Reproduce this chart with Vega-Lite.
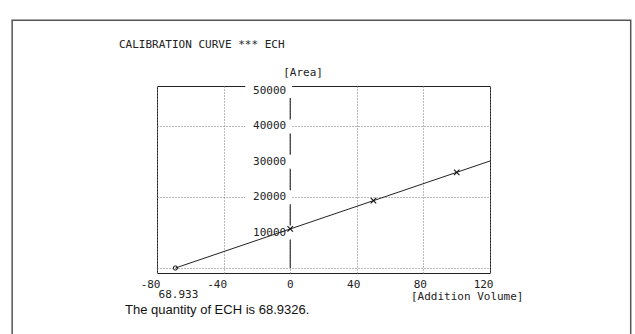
{
  "$schema": "https://vega.github.io/schema/vega-lite/v6.json",
  "width": 333,
  "height": 187,
  "autosize": {"type": "none"},
  "padding": {"left": 157, "top": 86, "right": 145, "bottom": 61},
  "background": "white",
  "config": {"view": {"stroke": "#222", "strokeWidth": 1}},
  "layer": [
    {
      "data": {"values": [{"x": -68.93, "y": 0}, {"x": 120, "y": 30229}]},
      "mark": {"type": "line", "opacity": 0},
      "encoding": {
        "x": {"field": "x", "type": "quantitative", "scale": {"domain": [-80, 120], "nice": false, "zero": false},
          "axis": {"values": [-80, -60, -40, -20, 0, 20, 40, 60, 80, 100, 120], "labelExpr": "datum.value % 40 == 0 ? '' + datum.value : ''", "grid": true, "gridDash": [1, 2], "gridColor": "#777", "gridWidth": 1, "domain": false, "ticks": false, "labelFont": "DejaVu Sans Mono", "labelFontSize": 11, "labelColor": "#222", "labelAlign": "right", "labelOffset": 3, "labelPadding": 5, "labelFlush": false, "labelOverlap": false, "labelBound": false,
            "title": "[Addition Volume]", "titleFont": "DejaVu Sans Mono", "titleFontSize": 11, "titleFontWeight": "normal", "titleColor": "#222", "titleAnchor": "end", "titleAlign": "right", "titleX": 366, "titleY": 23, "titleBaseline": "middle"}},
        "y": {"field": "y", "type": "quantitative", "scale": {"domain": [0, 50000], "nice": false, "zero": false},
          "axis": {"values": [0, 5000, 10000, 15000, 20000, 25000, 30000, 35000, 40000, 45000, 50000], "grid": true, "gridDash": [1, 2], "gridColor": "#777", "gridWidth": 1, "labels": false, "ticks": false, "domain": false, "title": null}}
      }
    },
    {
      "data": {"values": [{"k": "border"}]},
      "mark": {"type": "rect", "fill": null, "stroke": "#555", "strokeWidth": 1.5},
      "encoding": {
        "x": {"datum": -167, "type": "quantitative", "scale": {"domain": [-80, 120], "nice": false, "zero": false}},
        "x2": {"datum": 204.5},
        "y": {"datum": 70000, "type": "quantitative", "scale": {"domain": [0, 50000], "nice": false, "zero": false}},
        "y2": {"datum": -20000}
      }
    },
    {
      "data": {"values": [{"k": "axis"}]},
      "mark": {"type": "rule", "color": "#111", "strokeWidth": 1},
      "encoding": {
        "x": {"datum": 0, "type": "quantitative", "scale": {"domain": [-80, 120], "nice": false, "zero": false}},
        "y": {"datum": 0, "type": "quantitative", "scale": {"domain": [0, 50000], "nice": false, "zero": false}},
        "y2": {"datum": 50000}
      }
    },
    {
      "data": {"name": "ylab", "values": [{"v": 10000, "t": "10000"}, {"v": 20000, "t": "20000"}, {"v": 30000, "t": "30000"}, {"v": 40000, "t": "40000"}, {"v": 50000, "t": "50000"}]},
      "mark": {"type": "bar", "orient": "horizontal", "color": "white"},
      "encoding": {
        "x": {"datum": -27, "type": "quantitative", "scale": {"domain": [-80, 120], "nice": false, "zero": false}},
        "x2": {"datum": 1.2},
        "y": {"field": "v", "type": "quantitative", "scale": {"domain": [0, 50000], "nice": false, "zero": false}},
        "size": {"value": 14}
      }
    },
    {
      "data": {"name": "ylab"},
      "mark": {"type": "text", "align": "right", "baseline": "middle", "dx": -4, "font": "DejaVu Sans Mono", "fontSize": 11, "color": "#222"},
      "encoding": {
        "x": {"datum": 0, "type": "quantitative", "scale": {"domain": [-80, 120], "nice": false, "zero": false}},
        "y": {"field": "v", "type": "quantitative", "scale": {"domain": [0, 50000], "nice": false, "zero": false}},
        "text": {"field": "t"}
      }
    },
    {
      "data": {"values": [{"x": -68.93, "y": 0}, {"x": 120, "y": 30229}]},
      "mark": {"type": "line", "color": "#222", "strokeWidth": 1},
      "encoding": {
        "x": {"field": "x", "type": "quantitative", "scale": {"domain": [-80, 120], "nice": false, "zero": false}},
        "y": {"field": "y", "type": "quantitative", "scale": {"domain": [0, 50000], "nice": false, "zero": false}}
      }
    },
    {
      "data": {"values": [{"x": 0, "y": 11029}, {"x": 50, "y": 19029}, {"x": 100, "y": 27029}]},
      "mark": {"type": "point", "shape": "M-1,-1L1,1M-1,1L1,-1", "size": 30, "filled": false, "stroke": "#111", "strokeWidth": 1.1, "opacity": 1},
      "encoding": {
        "x": {"field": "x", "type": "quantitative", "scale": {"domain": [-80, 120], "nice": false, "zero": false}},
        "y": {"field": "y", "type": "quantitative", "scale": {"domain": [0, 50000], "nice": false, "zero": false}}
      }
    },
    {
      "data": {"values": [{"x": -68.93, "y": 0, "t": "68.933"}]},
      "layer": [
        {
          "mark": {"type": "point", "shape": "circle", "size": 18, "filled": false, "stroke": "#111", "strokeWidth": 1, "opacity": 1},
          "encoding": {
            "x": {"field": "x", "type": "quantitative", "scale": {"domain": [-80, 120], "nice": false, "zero": false}},
            "y": {"field": "y", "type": "quantitative", "scale": {"domain": [0, 50000], "nice": false, "zero": false}}
          }
        },
        {
          "mark": {"type": "text", "align": "center", "baseline": "middle", "dx": 3, "dy": 27, "font": "DejaVu Sans Mono", "fontSize": 11, "color": "#222"},
          "encoding": {
            "x": {"field": "x", "type": "quantitative", "scale": {"domain": [-80, 120], "nice": false, "zero": false}},
            "y": {"field": "y", "type": "quantitative", "scale": {"domain": [0, 50000], "nice": false, "zero": false}},
            "text": {"field": "t"}
          }
        }
      ]
    },
    {
      "data": {"values": [{"t": "[Area]"}]},
      "mark": {"type": "text", "align": "left", "baseline": "middle", "dx": -7, "dy": -18, "font": "DejaVu Sans Mono", "fontSize": 11, "color": "#222"},
      "encoding": {
        "x": {"datum": 0, "type": "quantitative", "scale": {"domain": [-80, 120], "nice": false, "zero": false}},
        "y": {"datum": 50000, "type": "quantitative", "scale": {"domain": [0, 50000], "nice": false, "zero": false}},
        "text": {"field": "t"}
      }
    },
    {
      "data": {"values": [{"t": "CALIBRATION CURVE *** ECH"}]},
      "mark": {"type": "text", "align": "left", "baseline": "alphabetic", "dx": -38, "dy": -43, "font": "DejaVu Sans Mono", "fontSize": 11, "color": "#222"},
      "encoding": {
        "x": {"datum": -80, "type": "quantitative", "scale": {"domain": [-80, 120], "nice": false, "zero": false}},
        "y": {"datum": 50000, "type": "quantitative", "scale": {"domain": [0, 50000], "nice": false, "zero": false}},
        "text": {"field": "t"}
      }
    },
    {
      "data": {"values": [{"t": "The quantity of ECH is 68.9326."}]},
      "mark": {"type": "text", "align": "left", "baseline": "middle", "dx": -32, "dy": 42, "font": "Liberation Sans", "fontSize": 13, "color": "#111"},
      "encoding": {
        "x": {"datum": -80, "type": "quantitative", "scale": {"domain": [-80, 120], "nice": false, "zero": false}},
        "y": {"datum": 0, "type": "quantitative", "scale": {"domain": [0, 50000], "nice": false, "zero": false}},
        "text": {"field": "t"}
      }
    }
  ]
}
